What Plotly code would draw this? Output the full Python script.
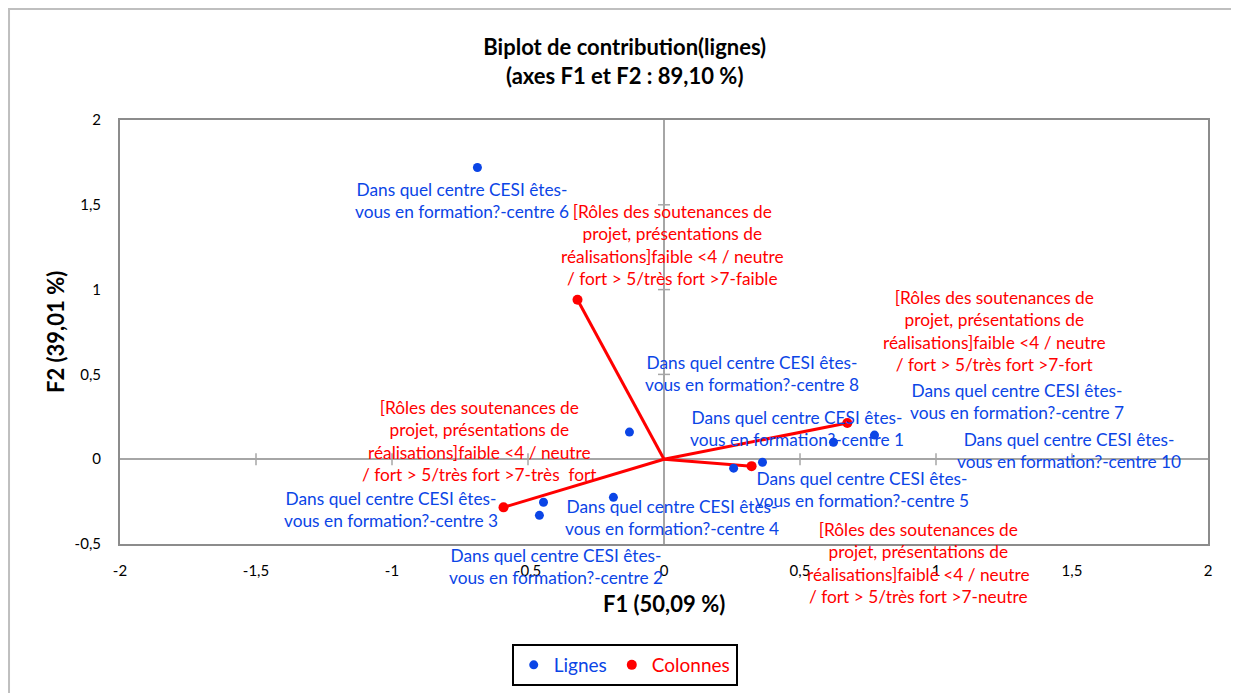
import plotly.graph_objects as go

# Points (lignes) - F1 / F2 coordinates
row_labels = [
    "Dans quel centre CESI êtes-<br>vous en formation?-centre 6",
    "Dans quel centre CESI êtes-<br>vous en formation?-centre 8",
    "Dans quel centre CESI êtes-<br>vous en formation?-centre 3",
    "Dans quel centre CESI êtes-<br>vous en formation?-centre 2",
    "Dans quel centre CESI êtes-<br>vous en formation?-centre 4",
    "Dans quel centre CESI êtes-<br>vous en formation?-centre 5",
    "Dans quel centre CESI êtes-<br>vous en formation?-centre 1",
    "Dans quel centre CESI êtes-<br>vous en formation?-centre 7",
    "Dans quel centre CESI êtes-<br>vous en formation?-centre 10",
]
row_f1 = [-0.686, -0.127, -0.443, -0.458, -0.186, 0.256, 0.362, 0.623, 0.774]
row_f2 = [1.720, 0.160, -0.254, -0.331, -0.225, -0.053, -0.018, 0.100, 0.142]

# Vectors (colonnes)
col_labels = [
    "[Rôles des soutenances de<br>projet, présentations de<br>réalisations]faible <4 / neutre<br>/ fort > 5/très fort >7-faible",
    "[Rôles des soutenances de<br>projet, présentations de<br>réalisations]faible <4 / neutre<br>/ fort > 5/très fort >7-fort",
    "[Rôles des soutenances de<br>projet, présentations de<br>réalisations]faible <4 / neutre<br>/ fort > 5/très fort >7-très  fort",
    "[Rôles des soutenances de<br>projet, présentations de<br>réalisations]faible <4 / neutre<br>/ fort > 5/très fort >7-neutre",
]
col_f1 = [-0.318, 0.674, -0.590, 0.322]
col_f2 = [0.940, 0.213, -0.284, -0.041]

x_ticks = [-2, -1.5, -1, -0.5, 0, 0.5, 1, 1.5, 2]
x_ticktext = ["-2", "-1,5", "-1", "-0,5", "0", "0,5", "1", "1,5", "2"]
y_ticks = [-0.5, 0, 0.5, 1, 1.5, 2]
y_ticktext = ["-0,5", "0", "0,5", "1", "1,5", "2"]

# label offsets in pixels (label centre relative to the point)
row_shift = [(-15, -33), (123, 59), (-153, -7), (17, -51), (59, -20),
             (128, -21), (35, 34), (184, 41), (194, -15)]
col_shift = [(95, 55), (147, 92), (-24, 66), (167, -97)]

BLUE = "#0B45E6"
RED = "#FF0000"
GREY = "#A6A6A6"
FONT = "Lato"
LABEL_SIZE = 17.3

fig = go.Figure()

# red vectors from the origin
vx, vy = [], []
for a, b in zip(col_f1, col_f2):
    vx += [0, a, None]
    vy += [0, b, None]
fig.add_trace(go.Scatter(x=vx, y=vy, mode="lines", line=dict(color=RED, width=3),
                         showlegend=False, hoverinfo="skip"))

fig.add_trace(go.Scatter(x=row_f1, y=row_f2, mode="markers",
                         marker=dict(color=BLUE, size=9),
                         name=f"<span style='color:{BLUE}'>Lignes</span>"))
fig.add_trace(go.Scatter(x=col_f1, y=col_f2, mode="markers",
                         marker=dict(color=RED, size=10),
                         name=f"<span style='color:{RED}'>Colonnes</span>"))

for x, y, t, (dx, dy) in zip(row_f1, row_f2, row_labels, row_shift):
    fig.add_annotation(x=x, y=y, text=t, showarrow=False, xshift=dx, yshift=dy,
                       font=dict(family=FONT, size=LABEL_SIZE, color=BLUE), align="center")
for x, y, t, (dx, dy) in zip(col_f1, col_f2, col_labels, col_shift):
    fig.add_annotation(x=x, y=y, text=t, showarrow=False, xshift=dx, yshift=dy,
                       font=dict(family=FONT, size=LABEL_SIZE, color=RED), align="center")

# small cross ticks on the zero axes
for t in x_ticks[1:-1]:
    fig.add_shape(type="line", xref="x", yref="y", x0=t, x1=t, ysizemode="pixel",
                  yanchor=0, y0=-6, y1=6, line=dict(color=GREY, width=1.5), layer="below")
for t in y_ticks[1:-1]:
    fig.add_shape(type="line", xref="x", yref="y", y0=t, y1=t, xsizemode="pixel",
                  xanchor=0, x0=-6, x1=6, line=dict(color=GREY, width=1.5), layer="below")

# outer chart frame
fig.add_shape(type="rect", xref="paper", yref="paper", x0=-0.102, x1=1.05,
              y0=-0.4, y1=1.2618, line=dict(color="#BFBFBF", width=2))

fig.add_annotation(text="<b>F1 (50,09 %)</b>", xref="paper", yref="paper", x=0.5, y=0,
                   yanchor="top", yshift=-44, showarrow=False,
                   font=dict(family=FONT, size=22, color="black"))
fig.add_annotation(text="<b>F2 (39,01 %)</b>", xref="paper", yref="paper", x=0, y=0.5,
                   xanchor="center", xshift=-65, textangle=-90, showarrow=False,
                   font=dict(family=FONT, size=22, color="black"))

# page body has an 8px margin, so the figure is sized/offset for it
fig.update_layout(
    width=1231,
    height=685,
    margin=dict(l=112, r=31, t=112, b=149),
    paper_bgcolor="white",
    plot_bgcolor="white",
    title=dict(text="<b>Biplot de contribution(lignes)<br>(axes F1 et F2 : 89,10 %)</b>",
               x=0.501, xanchor="center", y=0.931, yanchor="middle",
               font=dict(family=FONT, size=22, color="black")),
    font=dict(family=FONT, size=15, color="black"),
    legend=dict(orientation="h", xref="container", yref="container",
                x=0.501, xanchor="center", y=0.0715, yanchor="top",
                bordercolor="black", borderwidth=2, font=dict(family=FONT, size=19),
                itemwidth=30),
    xaxis=dict(range=[-2, 2], tickvals=x_ticks, ticktext=x_ticktext, showgrid=False,
               zeroline=True, zerolinecolor=GREY, zerolinewidth=1.5,
               showline=True, mirror=True, linecolor="#8C8C8C", linewidth=2,
               ticks="", ticklabelstandoff=12, tickfont=dict(size=15)),
    yaxis=dict(range=[-0.5, 2], tickvals=y_ticks, ticktext=y_ticktext, showgrid=False,
               zeroline=True, zerolinecolor=GREY, zerolinewidth=1.5,
               showline=True, mirror=True, linecolor="#8C8C8C", linewidth=2,
               ticks="", ticklabelstandoff=14, tickfont=dict(size=15)),
)

fig.write_html("out.html")
